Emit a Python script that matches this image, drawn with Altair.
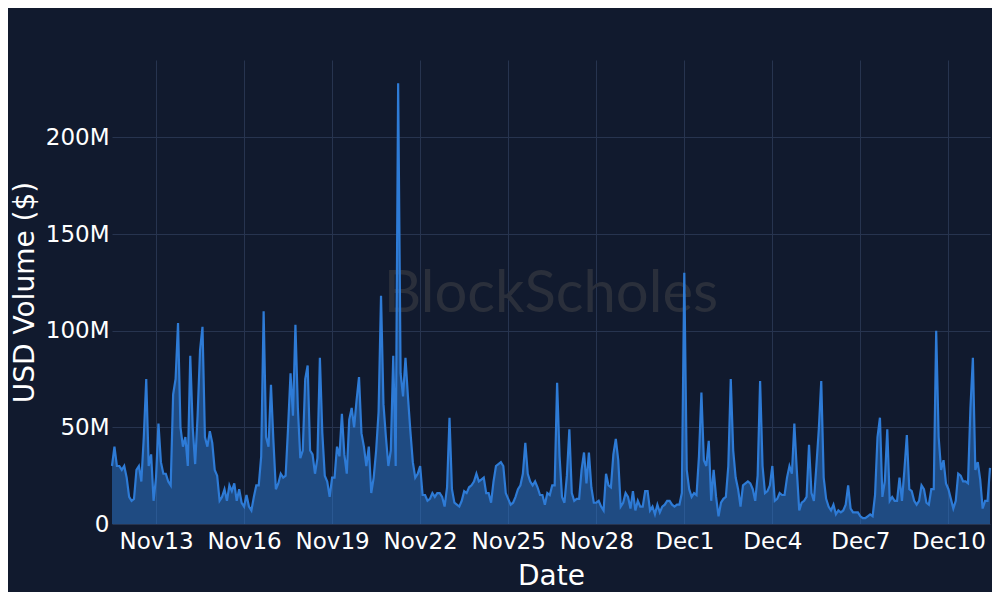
import altair as alt
import pandas as pd

# 2-hourly USD volume (millions), starting 2023-11-11 12:00 UTC
volume_m = [
    30, 40, 30, 30, 28, 30, 24, 14, 12, 13, 28, 30, 22, 45, 75, 30, 36, 12, 24, 52,
    32, 26, 26, 22, 20, 67, 75, 104, 50, 40, 45, 30, 87, 50, 31, 56, 90, 102, 45, 40,
    48, 42, 28, 25, 12, 14, 18, 12, 20, 17, 21, 12, 18, 11, 9, 15, 9, 7, 14, 20,
    20, 35, 110, 45, 40, 72, 43, 18, 21, 26, 24, 25, 50, 78, 56, 103, 60, 34, 38, 75,
    82, 38, 36, 26, 34, 86, 47, 25, 22, 14, 24, 24, 40, 35, 57, 36, 26, 54, 60, 50,
    64, 76, 47, 40, 30, 40, 16, 24, 38, 58, 118, 62, 45, 30, 38, 87, 30, 228, 78, 66,
    86, 66, 48, 32, 24, 26, 30, 15, 15, 12, 13, 16, 14, 16, 16, 14, 9, 19, 55, 18,
    11, 10, 9, 12, 17, 16, 19, 20, 22, 26, 22, 23, 24, 16, 16, 11, 22, 30, 31, 32,
    30, 16, 13, 10, 11, 14, 18, 20, 26, 42, 26, 22, 20, 22, 19, 15, 15, 10, 16, 15,
    20, 20, 73, 35, 14, 11, 25, 49, 16, 12, 13, 13, 28, 37, 21, 37, 19, 11, 11, 12,
    9, 7, 26, 20, 19, 36, 44, 33, 9, 11, 16, 14, 8, 17, 7, 12, 9, 9, 17, 17,
    7, 9, 5, 10, 6, 9, 10, 12, 12, 10, 9, 10, 10, 16, 130, 28, 18, 14, 16, 15,
    35, 68, 33, 30, 43, 12, 28, 14, 4, 11, 13, 14, 30, 75, 38, 24, 18, 9, 20, 21,
    22, 21, 18, 12, 25, 74, 30, 16, 17, 20, 30, 12, 13, 16, 15, 15, 24, 30, 26, 52,
    28, 7, 11, 12, 14, 41, 16, 12, 30, 49, 74, 24, 13, 9, 7, 10, 5, 7, 6, 7,
    10, 20, 8, 6, 6, 6, 4, 3, 3, 4, 5, 4, 15, 45, 55, 14, 22, 49, 12, 14,
    12, 12, 24, 12, 28, 46, 18, 17, 12, 10, 12, 20, 18, 11, 10, 18, 18, 100, 45, 28,
    33, 21, 18, 13, 8, 12, 26, 25, 22, 22, 21, 60, 86, 28, 32, 23, 8, 12, 12, 29,
]
start_time = "2023-11-11T12:00:00Z"
step = "2h"
tick_days = [(11, 13), (11, 16), (11, 19), (11, 22), (11, 25), (11, 28),
             (12, 1), (12, 4), (12, 7), (12, 10)]
y_ticks = [0, 50e6, 100e6, 150e6, 200e6]
watermark = ["BlockScholes"]

times = pd.date_range(start=start_time, periods=len(volume_m), freq=step)
df = pd.DataFrame({
    "Date": times.strftime("%Y-%m-%dT%H:%M:%SZ"),
    "Volume": [v * 1e6 for v in volume_m],
})

BG = "#111a2e"
BLUE = "#2e7bd6"
W, H = 878, 464

x_enc = alt.X(
    "Date:T",
    title="Date",
    scale=alt.Scale(
        type="utc",
        nice=False,
        domain=[
            alt.DateTime(year=2023, month=11, date=11, hours=12, utc=True),
            alt.DateTime(year=2023, month=12, date=11, hours=10, utc=True),
        ],
    ),
    axis=alt.Axis(
        values=[alt.DateTime(year=2023, month=m, date=d, utc=True) for m, d in tick_days],
        format="%b%-d",
        labelFlush=False,
        labelOverlap=False,
        labelPadding=6,
        titlePadding=9,
    ),
)
y_enc = alt.Y(
    "Volume:Q",
    title="USD Volume ($)",
    scale=alt.Scale(domain=[0, 240e6], nice=False),
    axis=alt.Axis(
        values=y_ticks,
        labelExpr="datum.value == 0 ? '0' : format(datum.value / 1000000, 'd') + 'M'",
        labelPadding=3,
        titlePadding=6,
    ),
)

wm = alt.Chart(pd.DataFrame({"t": watermark})).mark_text(
    font="Lato", fontSize=58, color="#2a2f3b", align="center", baseline="middle"
).encode(text="t:N", x=alt.value(W / 2), y=alt.value(H / 2 + 3))

area = alt.Chart(df).mark_area(color=BLUE, fillOpacity=0.5, interpolate="linear").encode(
    x=x_enc, y=y_enc
)
line = alt.Chart(df).mark_line(color=BLUE, strokeWidth=2.2, interpolate="linear").encode(
    x="Date:T", y="Volume:Q"
)

chart = (
    alt.layer(wm, area, line)
    .properties(
        width=W,
        height=H,
        background=BG,
        autosize=alt.AutoSizeParams(type="none"),
        padding={"left": 104, "top": 52, "right": 2, "bottom": 68},
    )
    .configure_view(stroke=None)
    .configure_axis(
        domain=False,
        ticks=False,
        grid=True,
        gridColor="#27344f",
        gridWidth=1,
        labelColor="#ffffff",
        titleColor="#ffffff",
        labelFont="DejaVu Sans",
        titleFont="DejaVu Sans",
        labelFontSize=23,
        titleFontSize=28,
        titleFontWeight="normal",
    )
)

chart.save("out.html", embed_options={"renderer": "svg", "actions": False})
